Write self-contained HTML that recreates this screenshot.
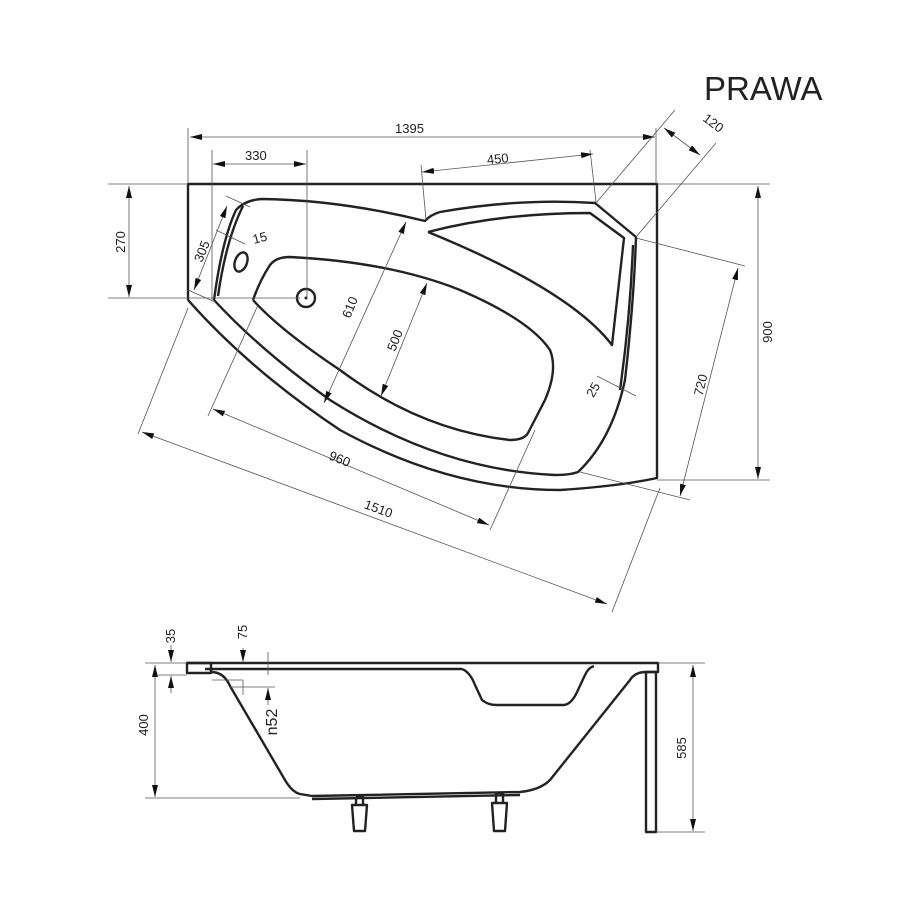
<!DOCTYPE html>
<html><head><meta charset="utf-8"><style>
html,body{margin:0;padding:0;background:#fff}
svg{display:block}
text{font-family:"Liberation Sans",sans-serif;fill:#222}
.t{stroke:#222;stroke-width:2.4;fill:none;stroke-linejoin:round}
.d{stroke:#555;stroke-width:0.8;fill:none}
</style></head><body>
<svg width="900" height="900" viewBox="0 0 900 900" xmlns="http://www.w3.org/2000/svg">
<defs>
<marker id="a" viewBox="0 0 12 6" refX="12" refY="3" markerWidth="12" markerHeight="6" orient="auto-start-reverse" markerUnits="userSpaceOnUse"><path d="M0,0 L12,3 L0,6z" fill="#111"/></marker>
</defs>
<text x="704" y="100" font-size="33">PRAWA</text>

<!-- top view outline -->
<path class="t" d="M188,300 L188,184 L657,184 L657,478 Q620,486 560,490 Q450,490 340,430 Q250,370 188,300" />
<!-- rim -->
<path class="t" d="M214,300 Q222,240 236,210 Q245,200 262,199 Q340,200 425,221 Q430,215 440,212 Q520,198 595,203 L636,237 Q634,300 625,380 Q612,440 578,472 Q570,475 555,475 Q440,470 330,400 Q260,350 214,300" />
<path class="t" d="M218,296 Q226,240 243,206" stroke-width="1.8"/>
<path class="t" d="M620,390 Q630,320 633,245" stroke-width="1.6"/>
<!-- headrest -->
<path class="t" d="M428,232 Q500,213 590,213 L624,238 L612,345 Q570,290 428,232" stroke-width="2"/>
<!-- bowl -->
<path class="t" d="M253,300 Q260,280 270,265 Q276,257 290,257 Q390,262 460,290 Q530,320 550,350 Q558,370 545,400 L528,433 Q524,440 510,440 Q420,430 340,370 Q280,330 253,300" />
<ellipse class="t" cx="241" cy="262" rx="6" ry="10" transform="rotate(20 241 262)" stroke-width="2"/>
<circle class="t" cx="306" cy="298" r="9" stroke-width="2"/>
<circle cx="306" cy="298" r="1.5" fill="#222"/>

<!-- dims top -->
<g class="d">
<line x1="188" y1="128" x2="188" y2="184"/><line x1="656" y1="128" x2="656" y2="184"/>
<line x1="190" y1="137" x2="655" y2="137" marker-start="url(#a)" marker-end="url(#a)"/>
<line x1="212" y1="150" x2="212" y2="300"/><line x1="307" y1="150" x2="307" y2="298"/>
<line x1="213" y1="164" x2="306" y2="164" marker-start="url(#a)" marker-end="url(#a)"/>
<line x1="421" y1="165" x2="426" y2="220"/><line x1="590" y1="150" x2="596" y2="202"/>
<line x1="422" y1="172" x2="593" y2="154" marker-start="url(#a)" marker-end="url(#a)"/>
<line x1="108" y1="184" x2="188" y2="184"/><line x1="108" y1="298" x2="300" y2="298"/>
<line x1="129" y1="186" x2="129" y2="297" marker-start="url(#a)" marker-end="url(#a)"/>
<line x1="657" y1="184" x2="770" y2="184"/><line x1="657" y1="480" x2="770" y2="480"/>
<line x1="758" y1="186" x2="758" y2="479" marker-start="url(#a)" marker-end="url(#a)"/>
<!-- 120 -->
<line x1="596" y1="203" x2="675" y2="110"/><line x1="636" y1="237" x2="716" y2="143"/>
<line x1="664" y1="128" x2="700" y2="155" marker-start="url(#a)" marker-end="url(#a)"/>
<!-- 720 -->
<line x1="636" y1="238" x2="745" y2="266"/><line x1="580" y1="472" x2="690" y2="500"/>
<line x1="738" y1="268" x2="680" y2="496" marker-start="url(#a)" marker-end="url(#a)"/>
<!-- 305 -->
<line x1="226" y1="196" x2="250" y2="207"/><line x1="188" y1="290" x2="215" y2="302"/>
<line x1="227" y1="206" x2="194" y2="290" marker-start="url(#a)" marker-end="url(#a)"/>
<line x1="216" y1="230" x2="245" y2="244"/>
<!-- 610 -->
<line x1="406" y1="222" x2="324" y2="403" marker-start="url(#a)" marker-end="url(#a)"/>
<!-- 500 -->
<line x1="427" y1="283" x2="381" y2="396" marker-start="url(#a)" marker-end="url(#a)"/>
<!-- 960 -->
<line x1="208" y1="416" x2="258" y2="305"/><line x1="490" y1="530" x2="535" y2="430"/>
<line x1="213" y1="409" x2="489" y2="525" marker-start="url(#a)" marker-end="url(#a)"/>
<!-- 1510 -->
<line x1="138" y1="434" x2="188" y2="308"/><line x1="612" y1="612" x2="660" y2="488"/>
<line x1="142" y1="432" x2="607" y2="604" marker-start="url(#a)" marker-end="url(#a)"/>
<!-- 25 -->
<line x1="597" y1="376" x2="636" y2="396"/>
</g>
<g font-size="13">
<text x="395" y="133">1395</text>
<text x="245" y="160">330</text>
<text x="487" y="163" transform="rotate(-6 500 160)">450</text>
<text transform="translate(125,242) rotate(-90)" text-anchor="middle">270</text>
<text transform="translate(772,332) rotate(-90)" text-anchor="middle">900</text>
<text transform="translate(702,120) rotate(37)">120</text>
<text transform="translate(705,386) rotate(-76)" text-anchor="middle">720</text>
<text transform="translate(206,253) rotate(-68)" text-anchor="middle">305</text>
<text transform="translate(254,244) rotate(-15)">15</text>
<text transform="translate(354,309) rotate(-68)" text-anchor="middle">610</text>
<text transform="translate(399,342) rotate(-68)" text-anchor="middle">500</text>
<text transform="translate(338,463) rotate(22)" text-anchor="middle">960</text>
<text transform="translate(377,513) rotate(20)" text-anchor="middle">1510</text>
<text transform="translate(597,392) rotate(-60)" text-anchor="middle">25</text>
</g>

<!-- side view -->
<path class="t" d="M187,663 L658,663 L658,672 L646,672"/>
<rect class="t" x="187" y="663" width="24" height="10" stroke-width="2"/>
<path class="t" d="M205,669 L462,669" stroke-width="1.4"/>
<path class="t" d="M211,672 Q224,672 230,686 L285,780 Q292,792 300,794 L312,796 L520,792 Q540,790 550,780 L630,680 Q635,672 646,672"/>
<path class="t" d="M462,669 Q470,672 475,685 L482,700 Q488,705 496,705 L564,705 Q572,704 578,690 L585,675 Q588,668 594,666" stroke-width="2"/>
<path class="t" d="M312,799 L520,795" stroke-width="1.6"/>
<rect class="t" x="646" y="672" width="10" height="160" stroke-width="2"/>
<path class="t" d="M356,797 L363,797 L363,805 M356,797 L356,805 M352,805 L367,805 L365,831 L354,831Z" stroke-width="1.8"/>
<path class="t" d="M496,793 L503,793 L503,803 M496,793 L496,803 M492,803 L507,803 L505,831 L494,831Z" stroke-width="1.8"/>
<g class="d">
<line x1="145" y1="663" x2="187" y2="663"/><line x1="145" y1="798" x2="300" y2="798"/>
<line x1="155" y1="665" x2="155" y2="797" marker-start="url(#a)" marker-end="url(#a)"/>
<line x1="658" y1="663" x2="705" y2="663"/><line x1="656" y1="832" x2="705" y2="832"/>
<line x1="693" y1="665" x2="693" y2="831" marker-start="url(#a)" marker-end="url(#a)"/>
<line x1="158" y1="675" x2="187" y2="675"/>
<line x1="171" y1="645" x2="171" y2="662" marker-end="url(#a)"/>
<line x1="171" y1="693" x2="171" y2="676" marker-end="url(#a)"/>
<line x1="243" y1="648" x2="243" y2="662" marker-end="url(#a)"/>
<line x1="212" y1="680" x2="243" y2="680"/><line x1="243" y1="680" x2="243" y2="695"/>
<line x1="268" y1="652" x2="268" y2="675"/>
<line x1="230" y1="687" x2="275" y2="687"/>
<line x1="268" y1="705" x2="268" y2="688" marker-end="url(#a)"/>
</g>
<g font-size="13">
<text transform="translate(175,636) rotate(-90)" text-anchor="middle">35</text>
<text transform="translate(247,632) rotate(-90)" text-anchor="middle">75</text>
<text transform="translate(277,722) rotate(-90)" text-anchor="middle" font-size="16">n52</text>
<text transform="translate(148,725) rotate(-90)" text-anchor="middle">400</text>
<text transform="translate(686,748) rotate(-90)" text-anchor="middle">585</text>
</g>
</svg>
</body></html>
